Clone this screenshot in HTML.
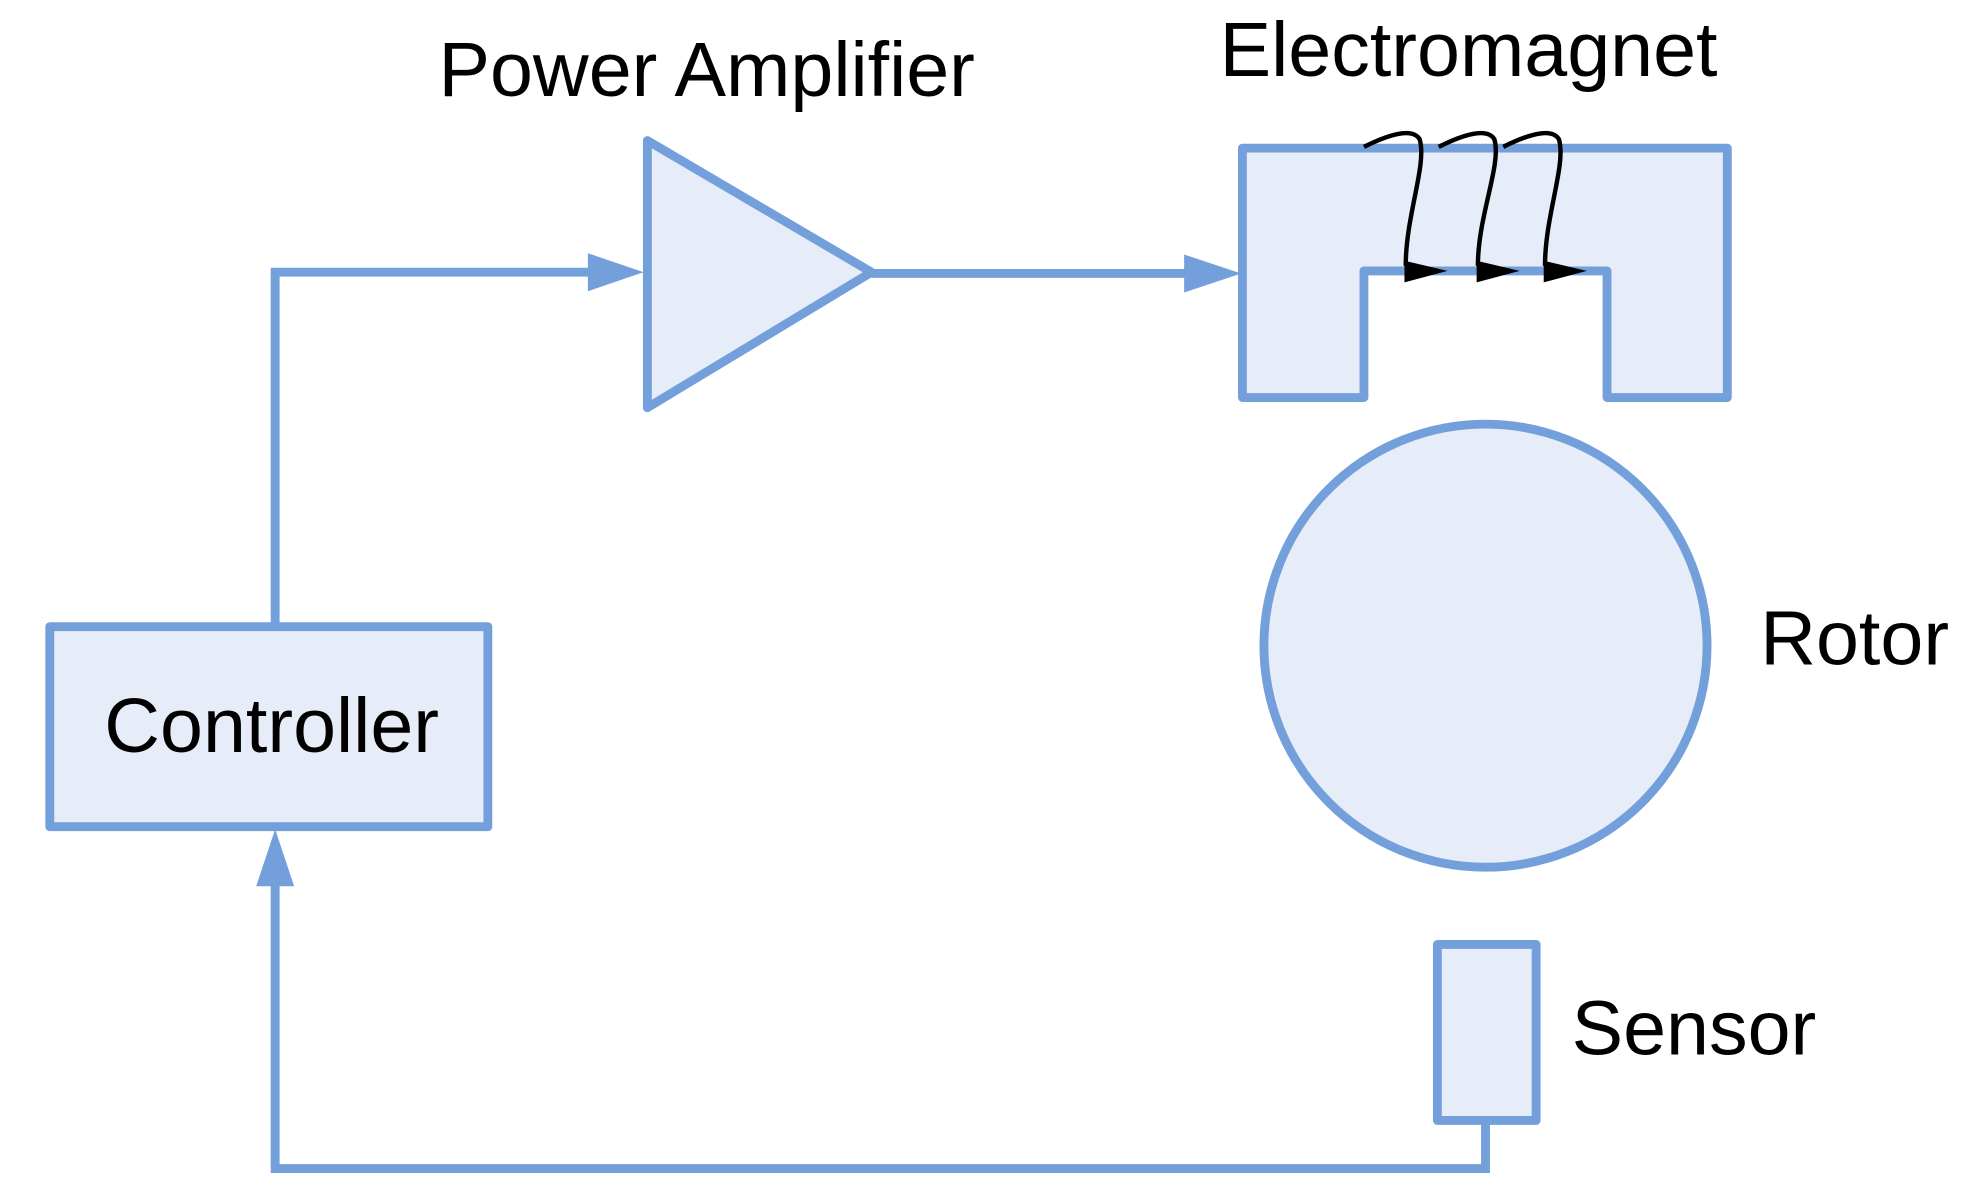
<!DOCTYPE html>
<html><head><style>html,body{margin:0;padding:0;background:#fff}svg{display:block}</style></head>
<body>
<svg width="1986" height="1204" viewBox="0 0 1568 951" xmlns="http://www.w3.org/2000/svg">
<g fill="#e6edf8" stroke="#739fdb" stroke-width="7" stroke-linejoin="round">
<rect x="39" y="495" width="346" height="158"/>
<polygon points="511,111 688,215 511,322"/>
<polygon points="981,117 1364,117 1364,314 1269,314 1269,214 1077,214 1077,314 981,314"/>
<circle cx="1173" cy="510" r="175"/>
<rect x="1135" y="746" width="78" height="139"/>
</g>
<g fill="none" stroke="#739fdb" stroke-width="7">
<polyline points="217,492 217,215 470,215"/>
<line x1="688" y1="216" x2="940" y2="216"/>
<polyline points="1173,888 1173,923 217,923 217,697"/>
</g>
<g fill="#739fdb">
<polygon points="508,215 464,200 464,230"/>
<polygon points="980,216 935,201 935,231"/>
<polygon points="217,655 202,700 232,700"/>
</g>
<g fill="none" stroke="#000" stroke-width="3.5">
<path d="M1077,116 C1095,107 1115,100 1121,110 C1127,130 1110,170 1110,210"/>
<path d="M1136,116 C1154,107 1174,100 1180,110 C1186,130 1167,170 1167,210"/>
<path d="M1187,116 C1205,107 1225,100 1231,110 C1237,130 1220,170 1220,210"/>
</g>
<g fill="#000">
<polygon points="1109,206 1109,223 1143,214"/>
<polygon points="1166,206 1166,223 1200,214"/>
<polygon points="1219,206 1219,223 1253,214"/>
</g>
<g font-family="Liberation Sans, sans-serif" font-size="61" fill="#000">
<text x="346" y="76">Power Amplifier</text>
<text x="963" y="60">Electromagnet</text>
<text x="82" y="594">Controller</text>
<text x="1390" y="525">Rotor</text>
<text x="1241" y="833">Sensor</text>
</g>
</svg>
</body></html>
